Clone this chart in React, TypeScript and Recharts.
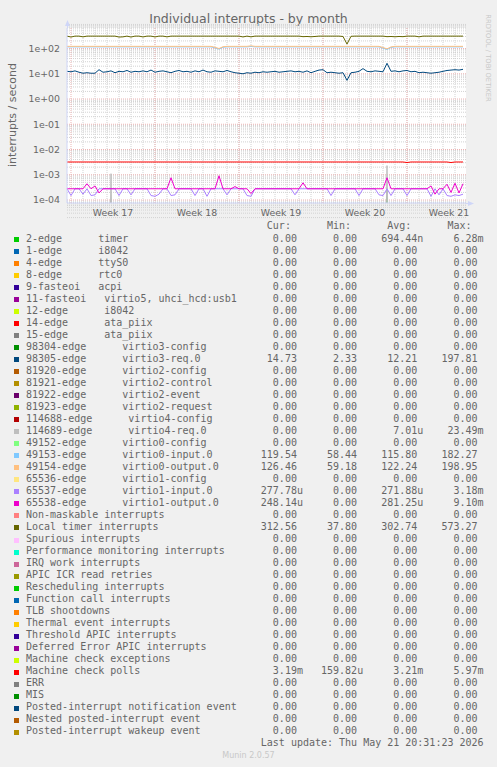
import { LineChart, Line, XAxis, YAxis, CartesianGrid } from 'recharts'

const SANS = '"DejaVu Sans", sans-serif'
const MONO = '"DejaVu Sans Mono", monospace'
const FONT_COLOR = '#666666'
const AXIS_COLOR = '#CFD6F8'

// x is in days from the left edge of the graph, one sample every 8 hours
const weekLabels = ['Week 17', 'Week 18', 'Week 19', 'Week 20', 'Week 21']
const weekStarts = [0.333, 7.333, 14.333, 21.333, 28.333]
const yTicks = [1e-4, 1e-3, 1e-2, 1e-1, 1, 10, 100]

// per second
const localTimer = [
  310, 285, 310, 310, 290, 310, 310, 310, 310, 310,
  310, 310, 310, 285, 290, 310, 285, 310, 310, 288,
  310, 310, 288, 310, 310, 290, 310, 310, 310, 310,
  310, 310, 310, 310, 310, 310, 310, 310, 310, 310,
  310, 310, 310, 310, 288, 310, 290, 310, 310, 310,
  310, 310, 310, 310, 310, 310, 310, 310, 310, 295,
  300, 292, 300, 310, 310, 310, 310, 310, 310, 300,
  150, 305, 310, 310, 310, 310, 310, 310, 310, 310,
  295, 300, 292, 300, 295, 310, 310, 310, 290, 310,
  310, 310, 310, 310, 310, 310, 310, 310, 310, 310,
]
const virtio0Output = [
  122, 122, 122, 122, 122, 122, 122, 122, 122, 122,
  122, 122, 122, 122, 122, 122, 122, 122, 122, 122,
  122, 122, 122, 122, 122, 122, 122, 122, 122, 122,
  122, 122, 122, 122, 122, 122, 122, 112, 100, 118,
  122, 122, 122, 122, 122, 122, 128, 122, 122, 122,
  122, 122, 122, 122, 122, 122, 122, 122, 122, 122,
  122, 122, 122, 122, 122, 122, 122, 122, 122, 122,
  122, 122, 122, 122, 122, 122, 122, 122, 122, 110,
  97, 116, 122, 122, 122, 122, 122, 122, 122, 122,
  122, 122, 122, 122, 122, 122, 122, 122, 122, 122,
]
const virtio0Input = [
  116, 116, 116, 116, 116, 116, 116, 116, 116, 116,
  116, 116, 116, 116, 116, 116, 116, 116, 116, 116,
  116, 116, 116, 116, 116, 116, 116, 116, 116, 116,
  116, 116, 116, 116, 116, 116, 116, 106, 95, 112,
  116, 116, 116, 116, 116, 116, 121, 116, 116, 116,
  116, 116, 116, 116, 116, 116, 116, 116, 116, 116,
  116, 116, 116, 116, 116, 116, 116, 116, 116, 116,
  116, 116, 116, 116, 116, 116, 116, 116, 116, 104,
  92, 110, 116, 116, 116, 116, 116, 116, 116, 116,
  116, 116, 116, 116, 116, 116, 116, 116, 116, 116,
]
const virtio3Req = [
  12.5, 12, 13, 11.5, 10.5, 11, 10.5, 10.5, 14.5, 11.5,
  12, 13, 11, 12.5, 12, 13.5, 11.5, 12.5, 12, 13,
  12, 14, 11.5, 12.5, 13, 12, 11, 12.5, 13.5, 12,
  12.5, 11.5, 13, 12, 14, 12, 11.5, 13, 12.5, 12,
  13.5, 12, 11, 10.5, 10, 11, 10.5, 11.5, 11, 12,
  11.5, 12, 12.5, 11.5, 12, 12.5, 13, 12, 12.5, 11.5,
  13, 11, 12.5, 14, 14.5, 11, 11.5, 11, 10.5, 11,
  5.5, 11, 11.5, 12.5, 16, 12.5, 12, 13, 12.5, 12,
  26, 12.5, 13, 12, 13, 13.5, 12, 12.5, 11, 11.5,
  11, 10.5, 11, 11.5, 12.5, 13.5, 14, 14.5, 14, 15,
]
// milli per second
const mcePolls = [
  3.2, 3.2, 3.2, 3.2, 3.2, 3.2, 3.2, 3.2, 3.2, 3.2,
  3.2, 3.2, 3.2, 3.2, 3.2, 3.2, 3.2, 3.2, 3.2, 3.2,
  3.2, 3.2, 3.2, 3.2, 3.2, 3.2, 3.2, 3.2, 3.2, 3.2,
  3.2, 3.2, 3.2, 3.2, 3.2, 3.2, 3.2, 3.2, 3.2, 3.2,
  3.2, 3.2, 3.2, 3.2, 3.2, 3.2, 3.2, 3.2, 3.2, 3.2,
  3.2, 3.2, 3.2, 3.2, 3.2, 3.2, 3.2, 3.2, 3.2, 3.2,
  3.2, 3.2, 3.2, 3.2, 3.2, 3.2, 3.2, 3.2, 3.2, 3.2,
  3.2, 3.2, 3.2, 3.2, 3.2, 3.2, 3.2, 3.2, 3.2, 3.2,
  3.2, 3.2, 3.2, 3.2, 3.2, 3.05, 3.2, 3.2, 3.2, 3.2,
  3.2, 3.2, 3.2, 3.2, 3.2, 3.2, 3.05, 3.2, 3.2, 3.2,
]
const virtio1Input = [
  0.278, 0.15, 0.278, 0.278, 0.17, 0.278, 0.15, 0.16, 0.278, 0.278,
  0.278, 0.278, 0.278, 0.15, 0.278, 0.278, 0.16, 0.278, 0.278, 0.278,
  0.278, 0.15, 0.14, 0.17, 0.278, 0.278, 0.15, 0.16, 0.278, 0.278,
  0.278, 0.278, 0.15, 0.278, 0.278, 0.14, 0.278, 0.278, 0.278, 0.278,
  0.16, 0.278, 0.278, 0.278, 0.278, 0.15, 0.14, 0.278, 0.278, 0.278,
  0.278, 0.278, 0.278, 0.278, 0.278, 0.278, 0.278, 0.16, 0.278, 0.278,
  0.278, 0.278, 0.278, 0.278, 0.278, 0.278, 0.15, 0.278, 0.278, 0.278,
  0.278, 0.278, 0.278, 0.15, 0.278, 0.278, 0.278, 0.278, 0.16, 0.15,
  0.278, 0.15, 0.278, 0.278, 0.278, 0.15, 0.278, 0.278, 0.278, 0.278,
  0.278, 0.14, 0.278, 0.16, 0.278, 0.15, 0.14, 0.16, 0.15, 0.17,
]
const virtio1Output = [
  0.278, 0.278, 0.278, 0.278, 0.278, 0.44, 0.278, 0.36, 0.19, 0.278,
  0.278, 0.278, 0.278, 0.278, 0.278, 0.278, 0.278, 0.278, 0.278, 0.278,
  0.278, 0.278, 0.278, 0.278, 0.278, 0.278, 0.76, 0.278, 0.278, 0.278,
  0.278, 0.278, 0.278, 0.278, 0.278, 0.278, 0.278, 0.278, 0.91, 0.278,
  0.278, 0.278, 0.34, 0.278, 0.278, 0.278, 0.18, 0.278, 0.278, 0.278,
  0.278, 0.278, 0.278, 0.278, 0.278, 0.278, 0.278, 0.278, 0.278, 0.48,
  0.278, 0.278, 0.278, 0.278, 0.278, 0.278, 0.278, 0.278, 0.278, 0.278,
  0.278, 0.278, 0.278, 0.278, 0.278, 0.278, 0.278, 0.278, 0.278, 0.278,
  0.76, 0.278, 0.278, 0.278, 0.278, 0.278, 0.278, 0.278, 0.278, 0.278,
  0.278, 0.36, 0.17, 0.278, 0.278, 0.42, 0.2, 0.46, 0.19, 0.44,
]
const virtio4Req = [
  0, 0, 0, 0, 0, 0, 0, 0, 0, 0,
  0, 1.1, 0, 0, 0, 0, 0, 0, 0, 0,
  0, 0, 0, 0, 0, 0, 0, 0, 0, 0,
  0, 0, 0, 0, 0, 0, 0, 0, 0, 0,
  0, 0, 0, 0, 0, 0, 0, 0, 0, 0,
  0, 0, 0, 0, 0, 0, 0, 0, 0, 0,
  0, 0, 0, 0, 0, 0, 0, 0, 0, 0,
  0, 0, 0, 0, 0, 0, 0, 0, 0, 0,
  2.3, 0, 0, 0, 0, 0, 0, 0, 0, 0,
  0, 0, 0, 0, 0, 0, 0, 0, 0, 0,
]
const timer2 = [
  0, 0, 0, 0, 0, 0, 0, 0, 0, 0,
  0, 0, 0, 0, 0, 0, 0, 0, 0, 0,
  0, 0, 0, 0, 0, 0, 0, 0, 0, 0,
  0, 0, 0, 0, 0, 0, 0, 0, 0, 0,
  0, 0, 0, 0, 0, 0, 0, 0, 0, 0,
  0, 0, 0, 0, 0, 0, 0, 0, 0, 0,
  0, 0, 0, 0, 0, 0, 0, 0, 0, 0,
  0, 0, 0, 0, 0, 0, 0, 0, 0, 0,
  0.25, 0, 0, 0, 0, 0, 0, 0, 0, 0,
  0, 0, 0, 0, 0, 0, 0, 0, 0, 0,
]

// legend
const legendNames = [
  '2-edge      timer', '1-edge      i8042', '4-edge      ttyS0', '8-edge      rtc0',
  '9-fasteoi   acpi', '11-fasteoi   virtio5, uhci_hcd:usb1', '12-edge      i8042',
  '14-edge      ata_piix', '15-edge      ata_piix', '98304-edge      virtio3-config',
  '98305-edge      virtio3-req.0', '81920-edge      virtio2-config', '81921-edge      virtio2-control',
  '81922-edge      virtio2-event', '81923-edge      virtio2-request', '114688-edge      virtio4-config',
  '114689-edge      virtio4-req.0', '49152-edge      virtio0-config', '49153-edge      virtio0-input.0',
  '49154-edge      virtio0-output.0', '65536-edge      virtio1-config', '65537-edge      virtio1-input.0',
  '65538-edge      virtio1-output.0', 'Non-maskable interrupts', 'Local timer interrupts',
  'Spurious interrupts', 'Performance monitoring interrupts', 'IRQ work interrupts',
  'APIC ICR read retries', 'Rescheduling interrupts', 'Function call interrupts', 'TLB shootdowns',
  'Thermal event interrupts', 'Threshold APIC interrupts', 'Deferred Error APIC interrupts',
  'Machine check exceptions', 'Machine check polls', 'ERR', 'MIS',
  'Posted-interrupt notification event', 'Nested posted-interrupt event', 'Posted-interrupt wakeup event',
]
const legendColors = [
  '#00CC00', '#0066B3', '#FF8000', '#FFCC00', '#330099', '#990099', '#CCFF00', '#FF0000',
  '#808080', '#008F00', '#00487D', '#B35A00', '#B38F00', '#6B006B', '#8FB300', '#B30000',
  '#BEBEBE', '#80FF80', '#80C9FF', '#FFC080', '#FFE680', '#AA80FF', '#EE00CC', '#FF8080',
  '#666600', '#FFBFFF', '#00FFCC', '#CC6699', '#999900', '#00CC00', '#0066B3', '#FF8000',
  '#FFCC00', '#330099', '#990099', '#CCFF00', '#FF0000', '#808080', '#008F00', '#00487D',
  '#B35A00', '#B38F00',
]
const Z = '0.00'
const legendCur = [
  Z, Z, Z, Z, Z, Z, Z, Z, Z, Z, '14.73', Z, Z, Z, Z, Z, Z, Z, '119.54', '126.46', Z,
  '277.78u', '248.14u', Z, '312.56', Z, Z, Z, Z, Z, Z, Z, Z, Z, Z, Z, '3.19m', Z, Z, Z, Z, Z,
]
const legendMin = [
  Z, Z, Z, Z, Z, Z, Z, Z, Z, Z, '2.33', Z, Z, Z, Z, Z, Z, Z, '58.44', '59.18', Z,
  Z, Z, Z, '37.80', Z, Z, Z, Z, Z, Z, Z, Z, Z, Z, Z, '159.82u', Z, Z, Z, Z, Z,
]
const legendAvg = [
  '694.44n', Z, Z, Z, Z, Z, Z, Z, Z, Z, '12.21', Z, Z, Z, Z, Z, '7.01u', Z, '115.80', '122.24', Z,
  '271.88u', '281.25u', Z, '302.74', Z, Z, Z, Z, Z, Z, Z, Z, Z, Z, Z, '3.21m', Z, Z, Z, Z, Z,
]
const legendMax = [
  '6.28m', Z, Z, Z, Z, Z, Z, Z, Z, Z, '197.81', Z, Z, Z, Z, Z, '23.49m', Z, '182.27', '198.95', Z,
  '3.18m', '9.10m', Z, '573.27', Z, Z, Z, Z, Z, Z, Z, Z, Z, Z, Z, '5.97m', Z, Z, Z, Z, Z,
]
const lastUpdate = 'Last update: Thu May 21 20:31:23 2026'

// drawn in munin order, later lines on top
const series = [
  { key: 'timer', color: '#00CC00', values: timer2, unit: 1e-3 },
  { key: 'virtio3req', color: '#00487D', values: virtio3Req, unit: 1 },
  { key: 'virtio4req', color: '#BEBEBE', values: virtio4Req, unit: 1e-3 },
  { key: 'virtio0in', color: '#80C9FF', values: virtio0Input, unit: 1 },
  { key: 'virtio0out', color: '#FFC080', values: virtio0Output, unit: 1 },
  { key: 'virtio1in', color: '#AA80FF', values: virtio1Input, unit: 1e-3 },
  { key: 'virtio1out', color: '#EE00CC', values: virtio1Output, unit: 1e-3 },
  { key: 'loc', color: '#666600', values: localTimer, unit: 1 },
  { key: 'mcp', color: '#FF0000', values: mcePolls, unit: 1e-3 },
]

// zero can't sit on a log axis; push it far below the bottom so it gets clipped
const data = localTimer.map((_, i) => {
  const row: Record<string, number> = { t: i / 3 }
  series.forEach((s) => {
    const v = s.values[i] * s.unit
    row[s.key] = v > 0 ? v : 1e-12
  })
  return row
})

const dayLines: number[] = []
for (let d = 1.333; d < 33.25; d += 1) dayLines.push(d)
const minorY: number[] = []
for (let e = -5; e <= 2; e++) for (let m = 2; m <= 9; m++) minorY.push(m * Math.pow(10, e))

const fmtExp = (v: number) => {
  const e = Math.round(Math.log10(v))
  return '1e' + (e < 0 ? '-' : '+') + String(Math.abs(e)).padStart(2, '0')
}
const fmtVal = (v: string) => (/[0-9]$/.test(v) ? v + ' ' : v).padStart(10)

const ROW_TOP = 232.5
const ROW_H = 12.02

export default function App() {
  const textStyle = { fontFamily: MONO, fontSize: 10, color: FONT_COLOR, whiteSpace: 'pre' as const, lineHeight: '12px' }
  return (
    <div style={{ position: 'absolute', left: 0, top: 0, width: 497, height: 767, background: '#f0f0f0', overflow: 'hidden' }}>
      <div style={{ position: 'absolute', left: 0, top: 12, width: 497, textAlign: 'center', fontFamily: SANS, fontSize: 12.5, lineHeight: '14px', color: FONT_COLOR }}>
        Individual interrupts - by month
      </div>
      <div style={{ position: 'absolute', left: 12, top: 115, transform: 'translate(-50%, -50%) rotate(-90deg)', whiteSpace: 'nowrap', fontFamily: SANS, fontSize: 11, color: FONT_COLOR }}>
        interrupts / second
      </div>
      <div style={{ position: 'absolute', left: 488, top: 58, transform: 'translate(-50%, -50%) rotate(90deg)', whiteSpace: 'nowrap', fontFamily: SANS, fontSize: 6.8, color: '#c8c8c8' }}>
        RRDTOOL / TOBI OETIKER
      </div>

      <div style={{ position: 'absolute', left: 0, top: 0 }}>
        <LineChart width={497} height={225} data={data} margin={{ top: 28, right: 31, left: 0, bottom: 0 }}>
          <CartesianGrid
            fill="#ffffff"
            stroke="#d2d2d2"
            strokeDasharray="1 1"
            horizontalValues={minorY}
            verticalValues={dayLines}
          />
          <CartesianGrid
            stroke="#ecb4b4"
            strokeDasharray="1 1"
            horizontalValues={yTicks}
            verticalValues={weekStarts}
          />
          <XAxis
            type="number"
            dataKey="t"
            domain={[0, 33.25]}
            ticks={weekStarts.map((d) => d + 3.5)}
            tickFormatter={(_, i) => weekLabels[i]}
            interval={0}
            height={22}
            tickSize={0}
            tickMargin={6}
            tickLine={false}
            axisLine={{ stroke: AXIS_COLOR }}
            tick={{ fill: FONT_COLOR, fontSize: 9.4, fontFamily: SANS }}
          />
          <YAxis
            scale="log"
            domain={[7.6e-5, 650]}
            allowDataOverflow
            ticks={yTicks}
            tickFormatter={fmtExp}
            interval={0}
            width={67}
            tickSize={0}
            tickMargin={7}
            tickLine={false}
            axisLine={{ stroke: AXIS_COLOR }}
            tick={{ fill: FONT_COLOR, fontSize: 9.4, fontFamily: SANS }}
          />
          {series.map((s) => (
            <Line
              key={s.key}
              type="linear"
              dataKey={s.key}
              stroke={s.color}
              strokeWidth={1}
              dot={false}
              activeDot={false}
              isAnimationActive={false}
            />
          ))}
        </LineChart>
      </div>

      {/* axis arrows */}
      <svg style={{ position: 'absolute', left: 0, top: 0 }} width={497} height={225}>
        <line x1={67.5} y1={28} x2={67.5} y2={23} stroke={AXIS_COLOR} />
        <polygon points="65,26 70,26 67.5,20" fill={AXIS_COLOR} />
        <line x1={466} y1={203.5} x2={470} y2={203.5} stroke={AXIS_COLOR} />
        <polygon points="468,201 468,206 474,203.5" fill={AXIS_COLOR} />
      </svg>

      <div style={{ ...textStyle, position: 'absolute', left: 26, top: ROW_TOP - ROW_H }}>
        {' '.repeat(36) + ['Cur:', 'Min:', 'Avg:', 'Max:'].map((h) => h.padStart(8).padEnd(10)).join('')}
      </div>
      {legendNames.map((name, i) => (
        <div key={name + i}>
          <div style={{ position: 'absolute', left: 14, top: ROW_TOP + ROW_H * i + 4.5, width: 5, height: 5, background: legendColors[i] }} />
          <div style={{ ...textStyle, position: 'absolute', left: 26, top: ROW_TOP + ROW_H * i }}>
            {name.padEnd(36) + fmtVal(legendCur[i]) + fmtVal(legendMin[i]) + fmtVal(legendAvg[i]) + fmtVal(legendMax[i])}
          </div>
        </div>
      ))}
      <div style={{ ...textStyle, position: 'absolute', left: 26, top: ROW_TOP + ROW_H * legendNames.length }}>
        {lastUpdate.padStart(76)}
      </div>
      <div style={{ position: 'absolute', left: 0, top: 751, width: 497, textAlign: 'center', fontFamily: SANS, fontSize: 8, lineHeight: '10px', color: '#c8c8c8' }}>
        Munin 2.0.57
      </div>
    </div>
  )
}
